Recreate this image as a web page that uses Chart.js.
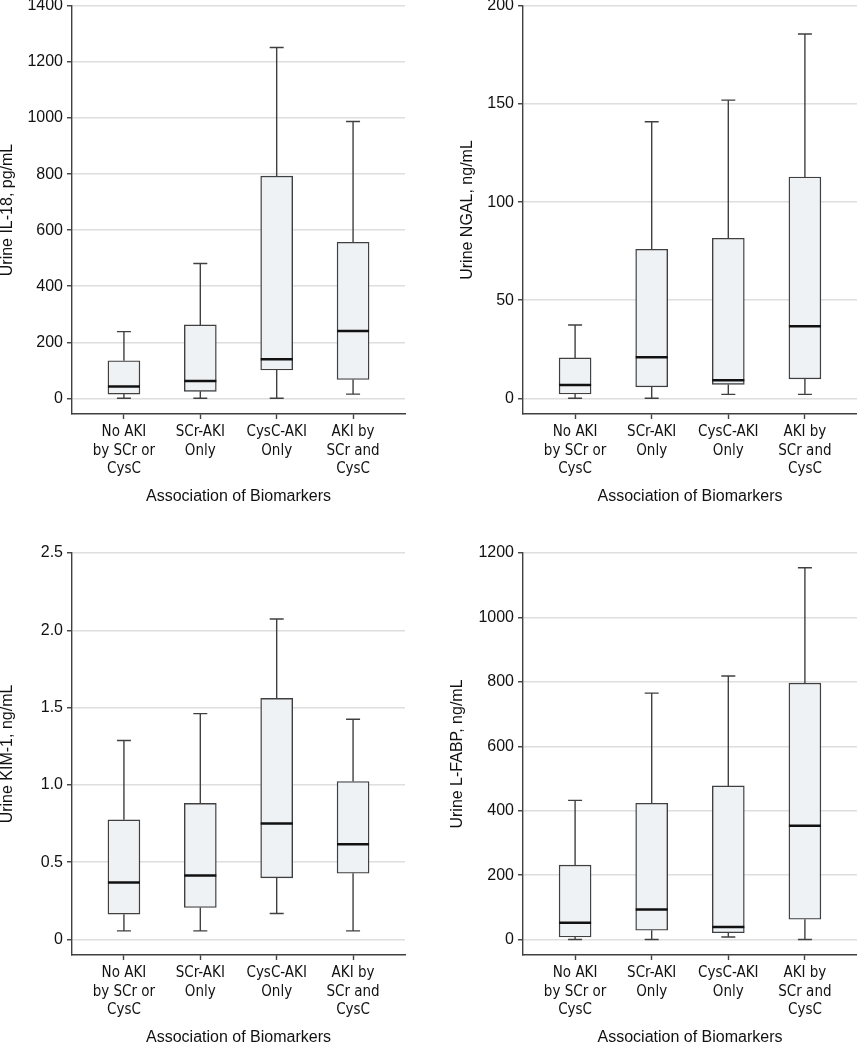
<!DOCTYPE html>
<html>
<head>
<meta charset="utf-8">
<script src="https://cdn.jsdelivr.net/npm/chart.js@4.4.1/dist/chart.umd.min.js"></script>
<style>
  html, body { margin: 0; padding: 0; background: #fff; }
  body { width: 857px; height: 1050px; position: relative; overflow: hidden; }
  canvas { position: absolute; }
</style>
</head>
<body>
<canvas id="il18Chart" width="430" height="520" style="left:0;top:0"></canvas>
<canvas id="ngalChart" width="427" height="520" style="left:430px;top:0"></canvas>
<canvas id="kimChart" width="430" height="530" style="left:0;top:520px"></canvas>
<canvas id="lfabpChart" width="427" height="530" style="left:430px;top:520px"></canvas>
<script>
const categories = [['No AKI', 'by SCr or', 'CysC'], ['SCr-AKI', 'Only'], ['CysC-AKI', 'Only'], ['AKI by', 'SCr and', 'CysC']];

// Urine IL-18, pg/mL
const il18Min = [0, 0, 0, 15];
const il18Q1 = [15, 25, 101, 67];
const il18Median = [42, 62, 139, 240];
const il18Q3 = [134, 262, 793, 557];
const il18Max = [238, 481, 1252, 988];
const il18Ticks = [0, 200, 400, 600, 800, 1000, 1200, 1400];

// Urine NGAL, ng/mL
const ngalMin = [0, 0, 2, 2];
const ngalQ1 = [2.2, 5.8, 7.1, 9.9];
const ngalMedian = [6.8, 20.9, 9.2, 36.7];
const ngalQ3 = [20.6, 76, 81.6, 112.8];
const ngalMax = [37.4, 141, 152, 185.7];
const ngalTicks = [0, 50, 100, 150, 200];

// Urine KIM-1, ng/mL
const kimMin = [0.056, 0.056, 0.168, 0.056];
const kimQ1 = [0.164, 0.207, 0.399, 0.429];
const kimMedian = [0.369, 0.414, 0.75, 0.616];
const kimQ3 = [0.774, 0.881, 1.56, 1.022];
const kimMax = [1.287, 1.461, 2.073, 1.425];
const kimTicks = [0, 0.5, 1.0, 1.5, 2.0, 2.5];
const kimTickLabels = ['0', '0.5', '1.0', '1.5', '2.0', '2.5'];

// Urine L-FABP, ng/mL
const lfabpMin = [0, 0, 8, 0];
const lfabpQ1 = [8, 29, 21, 63];
const lfabpMedian = [52, 93, 39, 353];
const lfabpQ3 = [231, 423, 477, 796];
const lfabpMax = [432, 765, 818, 1154];
const lfabpTicks = [0, 200, 400, 600, 800, 1000, 1200];

const ink = '#111';
const axisColor = '#404040';
const tickFont = { family: "'Liberation Sans', Arial, sans-serif", size: 16 };
const titleFont = { family: "'Liberation Sans', Arial, sans-serif", size: 16, lineHeight: 1 };
const labelFont = { family: "'DejaVu Sans Condensed', 'Liberation Sans', sans-serif", size: 15, lineHeight: 1.23 };

function boxChart(id, o) {
  const ctx = document.getElementById(id).getContext('2d');

  // whiskers + median drawn on top of the floating bars
  const whiskers = {
    id: 'whiskers',
    afterDatasetsDraw(chart) {
      const c = chart.ctx;
      const ys = chart.scales.y;
      const py = v => ys.getPixelForValue(v);
      c.save();
      chart.getDatasetMeta(0).data.forEach((bar, i) => {
        const x = bar.x;
        const half = bar.width / 2;
        c.strokeStyle = axisColor;
        c.lineWidth = 1.4;
        c.beginPath();
        c.moveTo(x, py(o.q3[i])); c.lineTo(x, py(o.max[i]));
        c.moveTo(x - 7, py(o.max[i])); c.lineTo(x + 7, py(o.max[i]));
        c.moveTo(x, py(o.q1[i])); c.lineTo(x, py(o.min[i]));
        c.moveTo(x - 7, py(o.min[i])); c.lineTo(x + 7, py(o.min[i]));
        c.stroke();
        c.strokeStyle = '#111';
        c.lineWidth = 2.5;
        c.beginPath();
        c.moveTo(x - half, py(o.median[i])); c.lineTo(x + half, py(o.median[i]));
        c.stroke();
      });
      c.restore();
    }
  };

  return new Chart(ctx, {
    type: 'bar',
    data: {
      datasets: [{
        data: o.q1.map((v, i) => ({ x: i, y: [v, o.q3[i]] })),
        backgroundColor: '#eef2f5',
        borderColor: axisColor,
        borderWidth: 1.4,
        borderSkipped: false,
        barThickness: 32
      }]
    },
    options: {
      responsive: false,
      animation: false,
      devicePixelRatio: 1,
      layout: { padding: { left: 0, right: o.padRight, top: o.padTop, bottom: 0 } },
      plugins: { legend: { display: false }, tooltip: { enabled: false } },
      scales: {
        x: {
          type: 'linear',
          min: -0.68,
          max: 3.68,
          offset: false,
          afterBuildTicks: s => { s.ticks = categories.map((c, i) => ({ value: i })); },
          afterFit: s => { s.height = o.xHeight; s.paddingLeft = 0; s.paddingRight = 0; },
          grid: { offset: false, drawOnChartArea: false, tickLength: 5, tickColor: axisColor, tickWidth: 1.4 },
          border: { color: axisColor, width: 1.4 },
          ticks: { autoSkip: false, maxRotation: 0, padding: 4, color: ink, font: labelFont, callback: v => categories[v] },
          title: { display: true, text: 'Association of Biomarkers', color: ink, font: titleFont, padding: { top: 0, bottom: o.xTitlePad } }
        },
        y: {
          min: o.yMin,
          max: o.ticks[o.ticks.length - 1],
          afterBuildTicks: s => { s.ticks = o.ticks.map(v => ({ value: v })); },
          afterFit: s => { s.width = o.yWidth; s.paddingTop = 0; s.paddingBottom = 0; },
          grid: { color: '#dedede', lineWidth: 1.5, tickLength: 5, tickColor: axisColor, tickWidth: 1.4 },
          border: { color: axisColor, width: 1.4 },
          ticks: { padding: 4, color: ink, font: tickFont, callback: (v, i) => o.tickLabels ? o.tickLabels[i] : String(v) },
          title: { display: true, text: o.title, color: ink, font: titleFont, padding: { top: o.yTitlePad, bottom: 0 } }
        }
      }
    },
    plugins: [whiskers]
  });
}

boxChart('il18Chart', {
  min: il18Min, q1: il18Q1, median: il18Median, q3: il18Q3, max: il18Max,
  ticks: il18Ticks, yMin: -56, title: 'Urine IL-18, pg/mL',
  padTop: 6, padRight: 25, yWidth: 72, yTitlePad: 0, xHeight: 106, xTitlePad: 15
});
boxChart('ngalChart', {
  min: ngalMin, q1: ngalQ1, median: ngalMedian, q3: ngalQ3, max: ngalMax,
  ticks: ngalTicks, yMin: -8, title: 'Urine NGAL, ng/mL',
  padTop: 6, padRight: 0, yWidth: 93, yTitlePad: 30, xHeight: 106, xTitlePad: 15
});
boxChart('kimChart', {
  min: kimMin, q1: kimQ1, median: kimMedian, q3: kimQ3, max: kimMax,
  ticks: kimTicks, tickLabels: kimTickLabels, yMin: -0.1, title: 'Urine KIM-1, ng/mL',
  padTop: 33, padRight: 25, yWidth: 72, yTitlePad: 0, xHeight: 95, xTitlePad: 4
});
boxChart('lfabpChart', {
  min: lfabpMin, q1: lfabpQ1, median: lfabpMedian, q3: lfabpQ3, max: lfabpMax,
  ticks: lfabpTicks, yMin: -48, title: 'Urine L-FABP, ng/mL',
  padTop: 33, padRight: 0, yWidth: 93, yTitlePad: 20, xHeight: 95, xTitlePad: 4
});
</script>
</body>
</html>
